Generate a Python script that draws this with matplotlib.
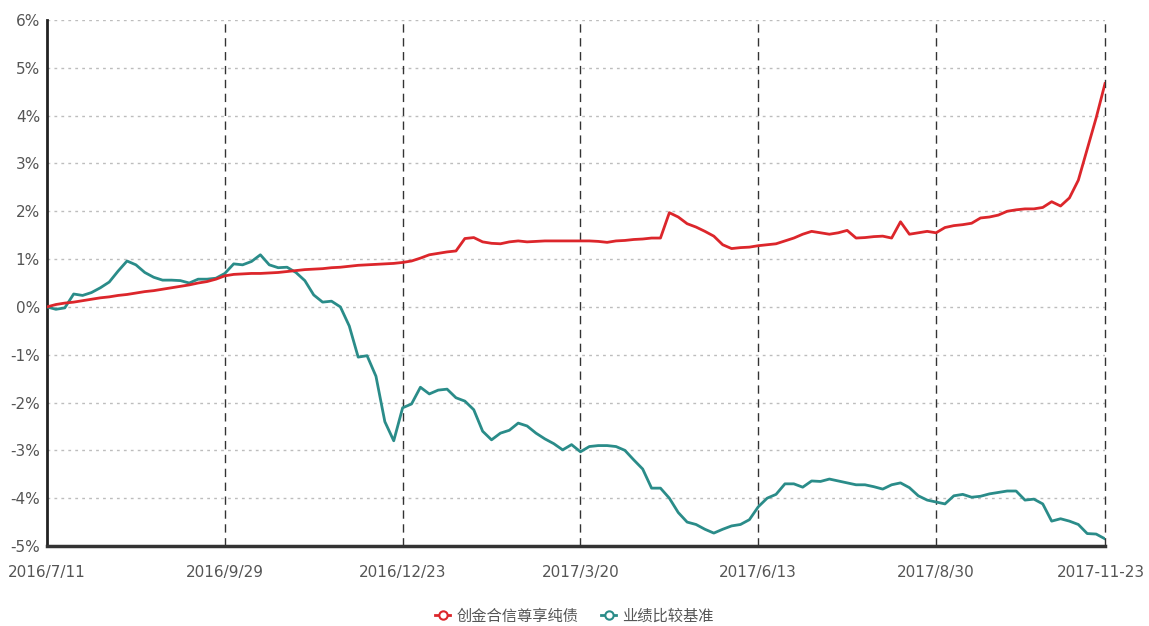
import matplotlib
matplotlib.use("Agg")
import matplotlib.pyplot as plt
import matplotlib.transforms as mtransforms
from matplotlib.lines import Line2D
import numpy as np

plt.rcParams['font.family'] = ['Noto Sans CJK SC', 'DejaVu Sans']

tick_labels = ["2016/7/11", "2016/9/29", "2016/12/23", "2017/3/20", "2017/6/13", "2017/8/30", "2017-11-23"]
tick_index = [0, 20, 40, 60, 80, 100, 119]
series_names = ["创金合信尊享纯债", "业绩比较基准"]

fund = [0.0, 0.05, 0.08, 0.10, 0.13, 0.16, 0.19, 0.21, 0.24, 0.26,
        0.29, 0.32, 0.34, 0.37, 0.40, 0.43, 0.46, 0.50, 0.53, 0.58,
        0.65, 0.68, 0.69, 0.70, 0.70, 0.71, 0.72, 0.74, 0.76, 0.78,
        0.79, 0.80, 0.82, 0.83, 0.85, 0.87, 0.88, 0.89, 0.90, 0.91,
        0.93, 0.96, 1.02, 1.09, 1.12, 1.15, 1.17, 1.43, 1.45, 1.36,
        1.33, 1.32, 1.36, 1.38, 1.36, 1.37, 1.38, 1.38, 1.38, 1.38,
        1.38, 1.38, 1.37, 1.35, 1.38, 1.39, 1.41, 1.42, 1.44, 1.44,
        1.97, 1.88, 1.74, 1.67, 1.58, 1.48, 1.30, 1.22, 1.24, 1.25,
        1.28, 1.30, 1.32, 1.38, 1.44, 1.52, 1.58, 1.55, 1.52, 1.55,
        1.60, 1.44, 1.45, 1.47, 1.48, 1.44, 1.78, 1.52, 1.55, 1.58,
        1.55, 1.66, 1.70, 1.72, 1.75, 1.86, 1.88, 1.92, 2.00, 2.03,
        2.05, 2.05, 2.08, 2.20, 2.11, 2.28, 2.65, 3.30, 3.95, 4.67]

bench = [0.0, -0.05, -0.02, 0.27, 0.24, 0.30, 0.40, 0.52, 0.75, 0.96,
         0.88, 0.72, 0.62, 0.56, 0.56, 0.55, 0.50, 0.58, 0.58, 0.60,
         0.70, 0.90, 0.88, 0.95, 1.09, 0.88, 0.82, 0.83, 0.72, 0.55,
         0.25, 0.10, 0.12, 0.00, -0.40, -1.05, -1.02, -1.45, -2.40, -2.80,
         -2.11, -2.03, -1.68, -1.82, -1.74, -1.72, -1.90, -1.97, -2.15, -2.60,
         -2.78, -2.64, -2.58, -2.43, -2.49, -2.64, -2.76, -2.86, -2.99, -2.88,
         -3.03, -2.92, -2.90, -2.90, -2.92, -3.00, -3.20, -3.39, -3.79, -3.79,
         -4.00, -4.30, -4.50, -4.55, -4.65, -4.73, -4.65, -4.58, -4.55, -4.45,
         -4.18, -4.00, -3.92, -3.70, -3.70, -3.77, -3.64, -3.65, -3.60, -3.64,
         -3.68, -3.72, -3.72, -3.76, -3.81, -3.72, -3.68, -3.78, -3.95, -4.04,
         -4.08, -4.12, -3.95, -3.92, -3.98, -3.96, -3.91, -3.88, -3.85, -3.85,
         -4.04, -4.02, -4.12, -4.48, -4.43, -4.48, -4.55, -4.74, -4.75, -4.85]

y_ticks = list(range(-5, 7))

red = "#dc262b"
teal = "#2a8c89"
label_color = "#555555"

fig = plt.figure(figsize=(11.49, 6.26), dpi=100)
ax = fig.add_axes([47/1149, 1-546/626, (1105-47)/1149, (546-20)/626])

x = np.arange(len(fund))
ax.plot(x, bench, color=teal, lw=2.0, zorder=3, solid_joinstyle='round')
ax.plot(x, fund, color=red, lw=2.0, zorder=4, solid_joinstyle='round')

ax.set_xlim(0, len(fund) - 1)
ax.set_ylim(-5, 6)
ax.set_yticks(y_ticks)
ax.set_yticklabels([f"{v}%" for v in y_ticks])
ax.set_xticks(tick_index)
ax.set_xticklabels(tick_labels)

for v in y_ticks[1:]:
    ax.axhline(v, color="#bdbdbd", lw=1, ls=(0, (2, 3)), zorder=1)
for t in tick_index[1:]:
    ax.axvline(t, color="#333333", lw=1, ls=(0, (6, 4)), zorder=2, clip_on=False)

for s in ["top", "right"]:
    ax.spines[s].set_visible(False)
ax.spines["left"].set_linewidth(2)
ax.spines["left"].set_color("#222222")
ax.spines["bottom"].set_linewidth(2.5)
ax.spines["bottom"].set_color("#333333")

ax.tick_params(axis="both", length=0, labelsize=11, labelcolor=label_color)
ax.tick_params(axis="y", pad=5)
ax.tick_params(axis="x", pad=14)
for lab in ax.get_yticklabels():
    lab.set_fontfamily(['DejaVu Sans'])
for lab in ax.get_xticklabels():
    lab.set_fontfamily(['DejaVu Sans'])
last = ax.get_xticklabels()[-1]
last.set_transform(last.get_transform() + mtransforms.ScaledTranslation(-4/100, 0, fig.dpi_scale_trans))

handles = [Line2D([0], [0], color=red, lw=2, marker='o', markersize=6, markerfacecolor='white', markeredgecolor=red, markeredgewidth=1.5),
           Line2D([0], [0], color=teal, lw=2, marker='o', markersize=6, markerfacecolor='white', markeredgecolor=teal, markeredgewidth=1.5)]
fig.legend(handles, series_names, loc="center", bbox_to_anchor=(0.5, 0.016), ncol=2, frameon=False,
           fontsize=11, handlelength=1.0, handletextpad=0.4, columnspacing=1.5, labelcolor=label_color)

fig.savefig("out.png", dpi=100, facecolor="white")
